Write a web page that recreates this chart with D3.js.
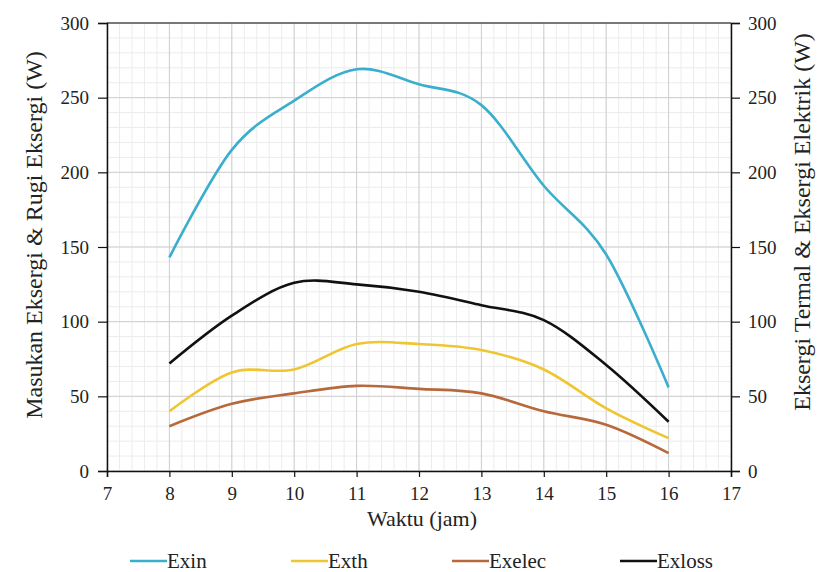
<!DOCTYPE html>
<html>
<head>
<meta charset="utf-8">
<script src="https://cdnjs.cloudflare.com/ajax/libs/d3/7.8.5/d3.min.js"></script>
<style>
  body { margin: 0; background: #fff; }
  svg text { font-family: "Times New Roman", "Liberation Serif", "DejaVu Serif", serif; fill: #222; }
</style>
</head>
<body>
<div id="chart"></div>
<script>
var hours = [8, 9, 10, 11, 12, 13, 14, 15, 16];
var exin = [143, 215, 248, 269, 259, 245, 191, 145, 56];
var exth = [40, 66, 68, 85, 85, 81, 68, 42, 22];
var exelec = [30, 45, 52, 57, 55, 52, 40, 31, 12];
var exloss = [72, 104, 126, 125, 120, 111, 101, 71, 33];
var xTicks = [7, 8, 9, 10, 11, 12, 13, 14, 15, 16, 17];
var yTicks = [0, 50, 100, 150, 200, 250, 300];

var w = 819, h = 572;
var plotLeft = 107, plotRight = 731, plotTop = 23, plotBottom = 471;
var serif = "'Times New Roman', 'Liberation Serif', 'DejaVu Serif', serif";

var svg = d3.select("#chart")
    .append("svg")
    .attr("width", w)
    .attr("height", h);

var x = d3.scaleLinear().domain([7, 17]).range([plotLeft, plotRight]);
var y = d3.scaleLinear().domain([0, 300]).range([plotBottom, plotTop]);

// minor grid
var minorX = d3.range(7, 17.001, 0.2);
var minorY = d3.range(0, 300.001, 10);
svg.append("g").selectAll("line").data(minorX).enter().append("line")
    .attr("x1", d => x(d)).attr("x2", d => x(d))
    .attr("y1", plotTop).attr("y2", plotBottom)
    .style("stroke", "#ececec").style("stroke-width", 1);
svg.append("g").selectAll("line").data(minorY).enter().append("line")
    .attr("x1", plotLeft).attr("x2", plotRight)
    .attr("y1", d => y(d)).attr("y2", d => y(d))
    .style("stroke", "#ececec").style("stroke-width", 1);

// major grid
svg.append("g").selectAll("line").data(xTicks).enter().append("line")
    .attr("x1", d => x(d)).attr("x2", d => x(d))
    .attr("y1", plotTop).attr("y2", plotBottom)
    .style("stroke", "#cfcfcf").style("stroke-width", 1);
svg.append("g").selectAll("line").data(yTicks).enter().append("line")
    .attr("x1", plotLeft).attr("x2", plotRight)
    .attr("y1", d => y(d)).attr("y2", d => y(d))
    .style("stroke", "#cfcfcf").style("stroke-width", 1);

// top border
svg.append("line")
    .attr("x1", plotLeft).attr("x2", plotRight)
    .attr("y1", plotTop).attr("y2", plotTop)
    .style("stroke", "#555").style("stroke-width", 1.5);

// axes
var xAxis = d3.axisBottom(x).tickValues(xTicks).tickSize(6).tickPadding(10);
var yLeft = d3.axisLeft(y).tickValues(yTicks).tickSize(9).tickPadding(9);
var yRight = d3.axisRight(y).tickValues(yTicks).tickSize(9).tickPadding(8);

function styleAxis(g) {
  g.attr("font-family", null);
  g.select(".domain").style("stroke", "#111").style("stroke-width", 1.5);
  g.selectAll(".tick line").style("stroke", "#111").style("stroke-width", 1.2);
  g.selectAll("text").style("font-size", "19px").style("fill", "#222")
    .style("font-family", serif);
}

svg.append("g").attr("transform", "translate(0," + plotBottom + ")").call(xAxis).call(styleAxis);
svg.append("g").attr("transform", "translate(" + plotLeft + ",0)").call(yLeft).call(styleAxis);
svg.append("g").attr("transform", "translate(" + plotRight + ",0)").call(yRight).call(styleAxis);

// series
var series = [
  { name: "Exin", values: exin, color: "#3aaecd" },
  { name: "Exth", values: exth, color: "#efc531" },
  { name: "Exelec", values: exelec, color: "#b8693b" },
  { name: "Exloss", values: exloss, color: "#111111" }
];

var line = d3.line()
    .x((d, i) => x(hours[i]))
    .y(d => y(d))
    .curve(d3.curveCardinal.tension(0));

series.forEach(function(s) {
  svg.append("path")
      .datum(s.values)
      .attr("d", line)
      .style("fill", "none")
      .style("stroke", s.color)
      .style("stroke-width", 2.6);
});

// axis titles
svg.append("text")
    .attr("transform", "translate(42,235) rotate(-90)")
    .attr("text-anchor", "middle")
    .style("font-size", "24px")
    .text("Masukan Eksergi & Rugi Eksergi (W)");

svg.append("text")
    .attr("transform", "translate(810,222) rotate(-90)")
    .attr("text-anchor", "middle")
    .style("font-size", "24px")
    .text("Eksergi Termal & Eksergi Elektrik (W)");

svg.append("text")
    .attr("x", 422)
    .attr("y", 526)
    .attr("text-anchor", "middle")
    .style("font-size", "22px")
    .text("Waktu (jam)");

// legend
var legendX = [130, 291, 452, 620];
var legend = svg.append("g").selectAll("g").data(series).enter().append("g")
    .attr("transform", (d, i) => "translate(" + legendX[i] + ",561)");
legend.append("line")
    .attr("x1", 0).attr("x2", 37).attr("y1", 0).attr("y2", 0)
    .style("stroke", d => d.color).style("stroke-width", 2.6);
legend.append("text")
    .attr("x", 37).attr("y", 7)
    .style("font-size", "21px")
    .text(d => d.name);
</script>
</body>
</html>
